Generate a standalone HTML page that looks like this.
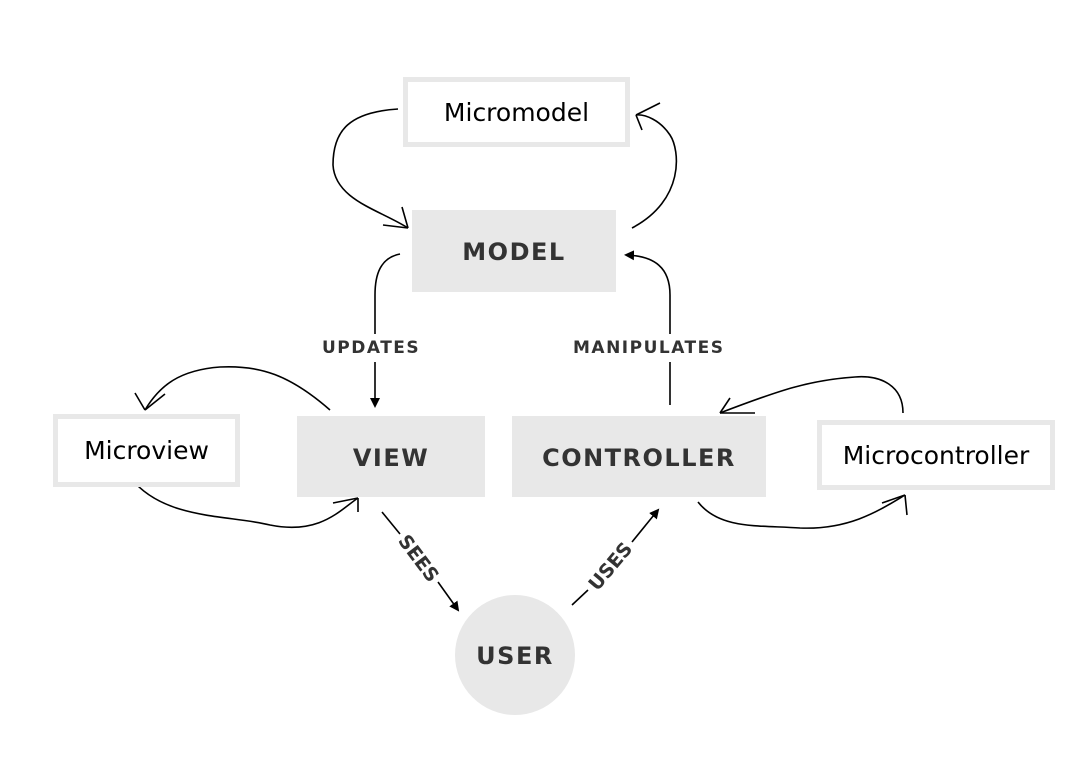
<!DOCTYPE html>
<html><head><style>
html,body{margin:0;padding:0;background:#fff;}
body{width:1088px;height:768px;position:relative;overflow:hidden;font-family:"DejaVu Sans","Liberation Sans",sans-serif;}
.b{position:absolute;box-sizing:border-box;display:flex;align-items:center;justify-content:center;}
.g{background:#e8e8e8;color:#333;font-weight:bold;font-size:24px;letter-spacing:1.5px;padding-top:2px;}
.w{border:5px solid #e8e8e8;background:#fff;color:#000;font-size:25px;font-family:"DejaVu Sans","Liberation Sans",sans-serif;}
.l{position:absolute;font-size:17px;font-weight:bold;color:#333;letter-spacing:1.5px;background:#fff;padding:4px 0;}
</style></head><body>
<svg width="1088" height="768" style="position:absolute;left:0;top:0">
<defs><marker id="a" markerWidth="10" markerHeight="10" refX="8" refY="5" orient="auto" markerUnits="userSpaceOnUse"><path d="M0,0 L10,5 L0,10 z" fill="#000"/></marker></defs>
<g fill="none" stroke="#000" stroke-width="1.6">
<path d="M400,254 C380,258 375,275 375,295 L375,406" marker-end="url(#a)"/>
<path d="M670,405 L670,295 C670,268 655,256 626,255" marker-end="url(#a)"/>
<path d="M382,512 L400,534"/>
<path d="M438,582 L458,610" marker-end="url(#a)"/>
<path d="M572,605 L588,590"/>
<path d="M632,542 L658,510" marker-end="url(#a)"/>
<path d="M398,109 C350,112 333,130 333,165 C335,200 380,210 408,228"/>
<path d="M408,228 L402,207 M408,228 L383,225"/>
<path d="M632,228 C685,200 680,150 670,135 C660,120 645,114 636,115"/>
<path d="M636,115 L660,103 M636,115 L642,130"/>
<path d="M330,410 C290,375 260,365 220,367 C180,370 160,385 145,410"/>
<path d="M145,410 L135,393 M145,410 L165,394"/>
<path d="M135,483 C170,520 230,515 270,525 C320,535 340,510 358,498"/>
<path d="M358,498 L333,503 M358,498 L358,512"/>
<path d="M903,413 C903,385 880,375 855,377 C810,380 780,390 720,413"/>
<path d="M720,413 L730,398 M720,413 L755,413"/>
<path d="M698,502 C720,530 760,525 800,528 C850,530 880,510 905,495"/>
<path d="M905,495 L882,503 M905,495 L907,515"/>
</g>
<circle cx="515" cy="655" r="60" fill="#e8e8e8"/>
<text x="515" y="664" text-anchor="middle" font-family="DejaVu Sans" font-weight="bold" font-size="24" fill="#333" letter-spacing="1.5">USER</text>
<text x="419" y="558" text-anchor="middle" font-family="DejaVu Sans" font-weight="bold" font-size="19" fill="#333" transform="rotate(53 419 558)" dy="7">SEES</text>
<text x="610" y="566" text-anchor="middle" font-family="DejaVu Sans" font-weight="bold" font-size="19" fill="#333" transform="rotate(-50 610 566)" dy="7">USES</text>
</svg>
<div class="b w" style="left:403px;top:77px;width:227px;height:70px;">Micromodel</div>
<div class="b g" style="left:412px;top:210px;width:204px;height:82px;">MODEL</div>
<div class="b g" style="left:297px;top:416px;width:188px;height:81px;">VIEW</div>
<div class="b g" style="left:512px;top:416px;width:254px;height:81px;">CONTROLLER</div>
<div class="b w" style="left:53px;top:414px;width:187px;height:73px;">Microview</div>
<div class="b w" style="left:817px;top:420px;width:238px;height:70px;">Microcontroller</div>
<div class="l" style="left:322px;top:334px;">UPDATES</div>
<div class="l" style="left:573px;top:334px;">MANIPULATES</div>
</body></html>
